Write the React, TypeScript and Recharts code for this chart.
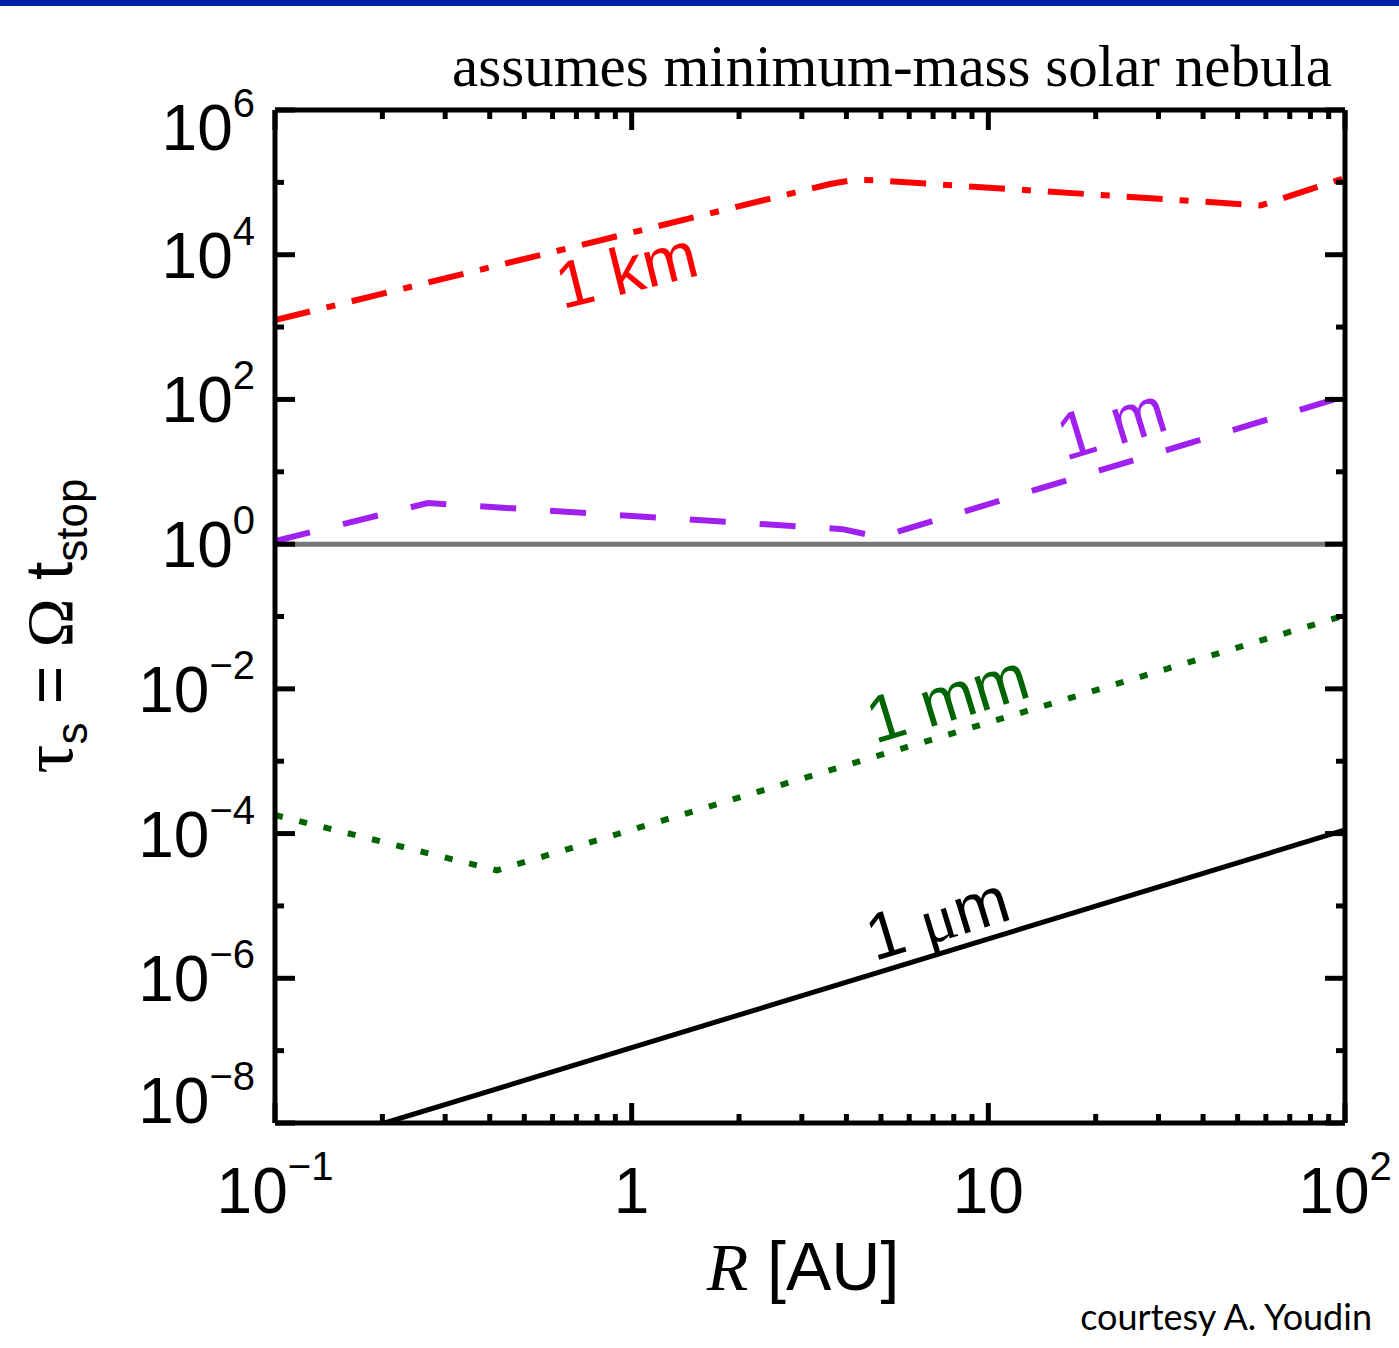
import React from "react";
import { LineChart, Line, XAxis, YAxis, ReferenceLine } from "recharts";

// radius in AU, stopping time tau_s
const kmR = [0.1, 3.6, 4.2, 4.8, 58, 100];
const kmTau = [1250, 9.5e4, 1.08e5, 1.07e5, 4.8e4, 1.15e5];

const mR = [0.1, 0.268, 3.9, 4.95, 100];
const mTau = [1.1, 3.7, 1.61, 1.25, 111];

const mmR = [0.1, 0.419, 100];
const mmTau = [1.8e-4, 3.1e-5, 0.104];

const umR = [0.203, 100];
const umTau = [1e-8, 1.12e-4];

const xTicks = [
  0.1, 0.2, 0.3, 0.4, 0.5, 0.6, 0.7, 0.8, 0.9,
  1, 2, 3, 4, 5, 6, 7, 8, 9,
  10, 20, 30, 40, 50, 60, 70, 80, 90, 100,
];
const xTickText: Record<string, [string, string]> = {
  "-1": ["10", "\u22121"],
  "0": ["1", ""],
  "1": ["10", ""],
  "2": ["10", "2"],
};
const yTicks = [1e-8, 1e-7, 1e-6, 1e-5, 1e-4, 1e-3, 1e-2, 1e-1, 1, 10, 100, 1e3, 1e4, 1e5, 1e6];

const toPoints = (r: number[], tau: number[]) => r.map((v, i) => ({ r: v, tau: tau[i] }));

const kmData = toPoints(kmR, kmTau);
const mData = toPoints(mR, mTau);
const mmData = toPoints(mmR, mmTau);
const umData = toPoints(umR, umTau);

const SANS = "'Liberation Sans', Arial, Helvetica, sans-serif";
const SERIF = "'Liberation Serif', 'Times New Roman', serif";

const decade = (v: number) => {
  const l = Math.log10(v);
  const e = Math.round(l);
  return { e, major: Math.abs(l - e) < 1e-6 };
};

const XTick = ({ x, y, payload, side }: any) => {
  const { e, major } = decade(payload.value);
  const len = major ? 20 : 9;
  const dir = side === "bottom" ? -1 : 1;
  const label = side === "bottom" && major ? xTickText[String(e)] : null;
  return (
    <g>
      <line x1={x} y1={y} x2={x} y2={y + dir * len} stroke="#000" strokeWidth={5} />
      {label && (
        <text x={x} y={y + 90} textAnchor="middle" fontFamily={SANS} fontSize={64} fill="#000">
          {label[0]}
          {label[1] && (
            <tspan fontSize={40} dy={-33}>
              {label[1]}
            </tspan>
          )}
        </text>
      )}
    </g>
  );
};

const YTick = ({ x, y, payload, side }: any) => {
  const { e } = decade(payload.value);
  const major = e % 2 === 0;
  const len = major ? 20 : 9;
  const dir = side === "left" ? 1 : -1;
  let shift = 23;
  if (e === 6) shift = 40;
  if (e === -8) shift = 0;
  return (
    <g>
      <line x1={x} y1={y} x2={x + dir * len} y2={y} stroke="#000" strokeWidth={5} />
      {side === "left" && major && (
        <text x={x - 20} y={y + shift} textAnchor="end" fontFamily={SANS} fontSize={64} fill="#000">
          10
          <tspan fontSize={40} dy={-33}>
            {e < 0 ? `\u2212${-e}` : `${e}`}
          </tspan>
        </text>
      )}
    </g>
  );
};

const CurveLabel = ({ x, y, angle, color, children }: any) => (
  <text
    x={x}
    y={y}
    transform={`rotate(${angle} ${x} ${y})`}
    textAnchor="middle"
    fontFamily={SANS}
    fontSize={66}
    fill={color}
  >
    {children}
  </text>
);

export default function App() {
  return (
    <div style={{ position: "absolute", left: 0, top: 0, width: 1399, height: 1348, background: "#fff" }}>
      <div style={{ position: "absolute", left: 0, top: 0, width: 1399, height: 6, background: "#0022a8" }} />
      <LineChart
        width={1399}
        height={1348}
        margin={{ top: 109, right: 53, bottom: 0, left: 0 }}
      >
        <XAxis
          xAxisId="b"
          dataKey="r"
          type="number"
          scale="log"
          domain={[0.1, 100]}
          allowDataOverflow
          ticks={xTicks}
          interval={0}
          height={225}
          tickSize={0}
          tickMargin={0}
          tickLine={false}
          axisLine={{ stroke: "#000", strokeWidth: 5 }}
          tick={(p: any) => <XTick {...p} side="bottom" />}
        />
        <XAxis
          xAxisId="t"
          orientation="top"
          dataKey="r"
          type="number"
          scale="log"
          domain={[0.1, 100]}
          allowDataOverflow
          ticks={xTicks}
          interval={0}
          height={1}
          tickSize={0}
          tickMargin={0}
          tickLine={false}
          axisLine={{ stroke: "#000", strokeWidth: 5 }}
          tick={(p: any) => <XTick {...p} side="top" />}
        />
        <YAxis
          yAxisId="l"
          dataKey="tau"
          type="number"
          scale="log"
          domain={[1e-8, 1e6]}
          allowDataOverflow
          ticks={yTicks}
          interval={0}
          width={275}
          tickSize={0}
          tickMargin={0}
          tickLine={false}
          axisLine={{ stroke: "#000", strokeWidth: 5 }}
          tick={(p: any) => <YTick {...p} side="left" />}
        />
        <YAxis
          yAxisId="r"
          orientation="right"
          dataKey="tau"
          type="number"
          scale="log"
          domain={[1e-8, 1e6]}
          allowDataOverflow
          ticks={yTicks}
          interval={0}
          width={1}
          tickSize={0}
          tickMargin={0}
          tickLine={false}
          axisLine={{ stroke: "#000", strokeWidth: 5 }}
          tick={(p: any) => <YTick {...p} side="right" />}
        />
        <ReferenceLine xAxisId="b" yAxisId="l" y={1} stroke="#777777" strokeWidth={5} />
        <Line
          xAxisId="b"
          yAxisId="l"
          data={kmData}
          dataKey="tau"
          type="linear"
          stroke="#ff0000"
          strokeWidth={6}
          strokeDasharray="36 17 9 17"
          dot={false}
          activeDot={false}
          isAnimationActive={false}
        />
        <Line
          xAxisId="b"
          yAxisId="l"
          data={mData}
          dataKey="tau"
          type="linear"
          stroke="#a020f0"
          strokeWidth={6}
          strokeDasharray="36 34"
          dot={false}
          activeDot={false}
          isAnimationActive={false}
        />
        <Line
          xAxisId="b"
          yAxisId="l"
          data={mmData}
          dataKey="tau"
          type="linear"
          stroke="#006400"
          strokeWidth={6}
          strokeDasharray="8 17"
          dot={false}
          activeDot={false}
          isAnimationActive={false}
        />
        <Line
          xAxisId="b"
          yAxisId="l"
          data={umData}
          dataKey="tau"
          type="linear"
          stroke="#000000"
          strokeWidth={5}
          dot={false}
          activeDot={false}
          isAnimationActive={false}
        />
      </LineChart>
      <svg
        width={1399}
        height={1348}
        style={{ position: "absolute", left: 0, top: 0, pointerEvents: "none" }}
      >
        <text x={1332} y={86} textAnchor="end" fontFamily={SERIF} fontSize={59} fill="#000">
          assumes minimum-mass solar nebula
        </text>
        <CurveLabel x={632} y={292} angle={-14} color="#ff0000">1 km</CurveLabel>
        <CurveLabel x={1118} y={445} angle={-17} color="#a020f0">1 m</CurveLabel>
        <CurveLabel x={954} y={720} angle={-17} color="#006400">1 mm</CurveLabel>
        <CurveLabel x={944} y={940} angle={-17} color="#000">
          1 <tspan fontFamily={SERIF}>μ</tspan>m
        </CurveLabel>
        <text x={803} y={1290} textAnchor="middle" fontSize={68} fill="#000">
          <tspan fontFamily={SERIF} fontStyle="italic">R</tspan>
          <tspan fontFamily={SANS}> [AU]</tspan>
        </text>
        <text
          x={72}
          y={626}
          transform="rotate(-90 72 626)"
          textAnchor="middle"
          fontSize={66}
          fill="#000"
        >
          <tspan fontFamily={SERIF} fontSize={72}>τ</tspan>
          <tspan fontFamily={SANS} fontSize={44} dy={15}>s</tspan>
          <tspan fontFamily={SANS} dy={-15}> = </tspan>
          <tspan fontFamily={SERIF}>Ω</tspan>
          <tspan fontFamily={SANS}> t</tspan>
          <tspan fontFamily={SANS} fontSize={44} dy={15}>stop</tspan>
        </text>
        <text x={1372} y={1330} textAnchor="end" fontFamily="Lato, sans-serif" fontSize={36} fill="#000">
          courtesy A. Youdin
        </text>
      </svg>
    </div>
  );
}
